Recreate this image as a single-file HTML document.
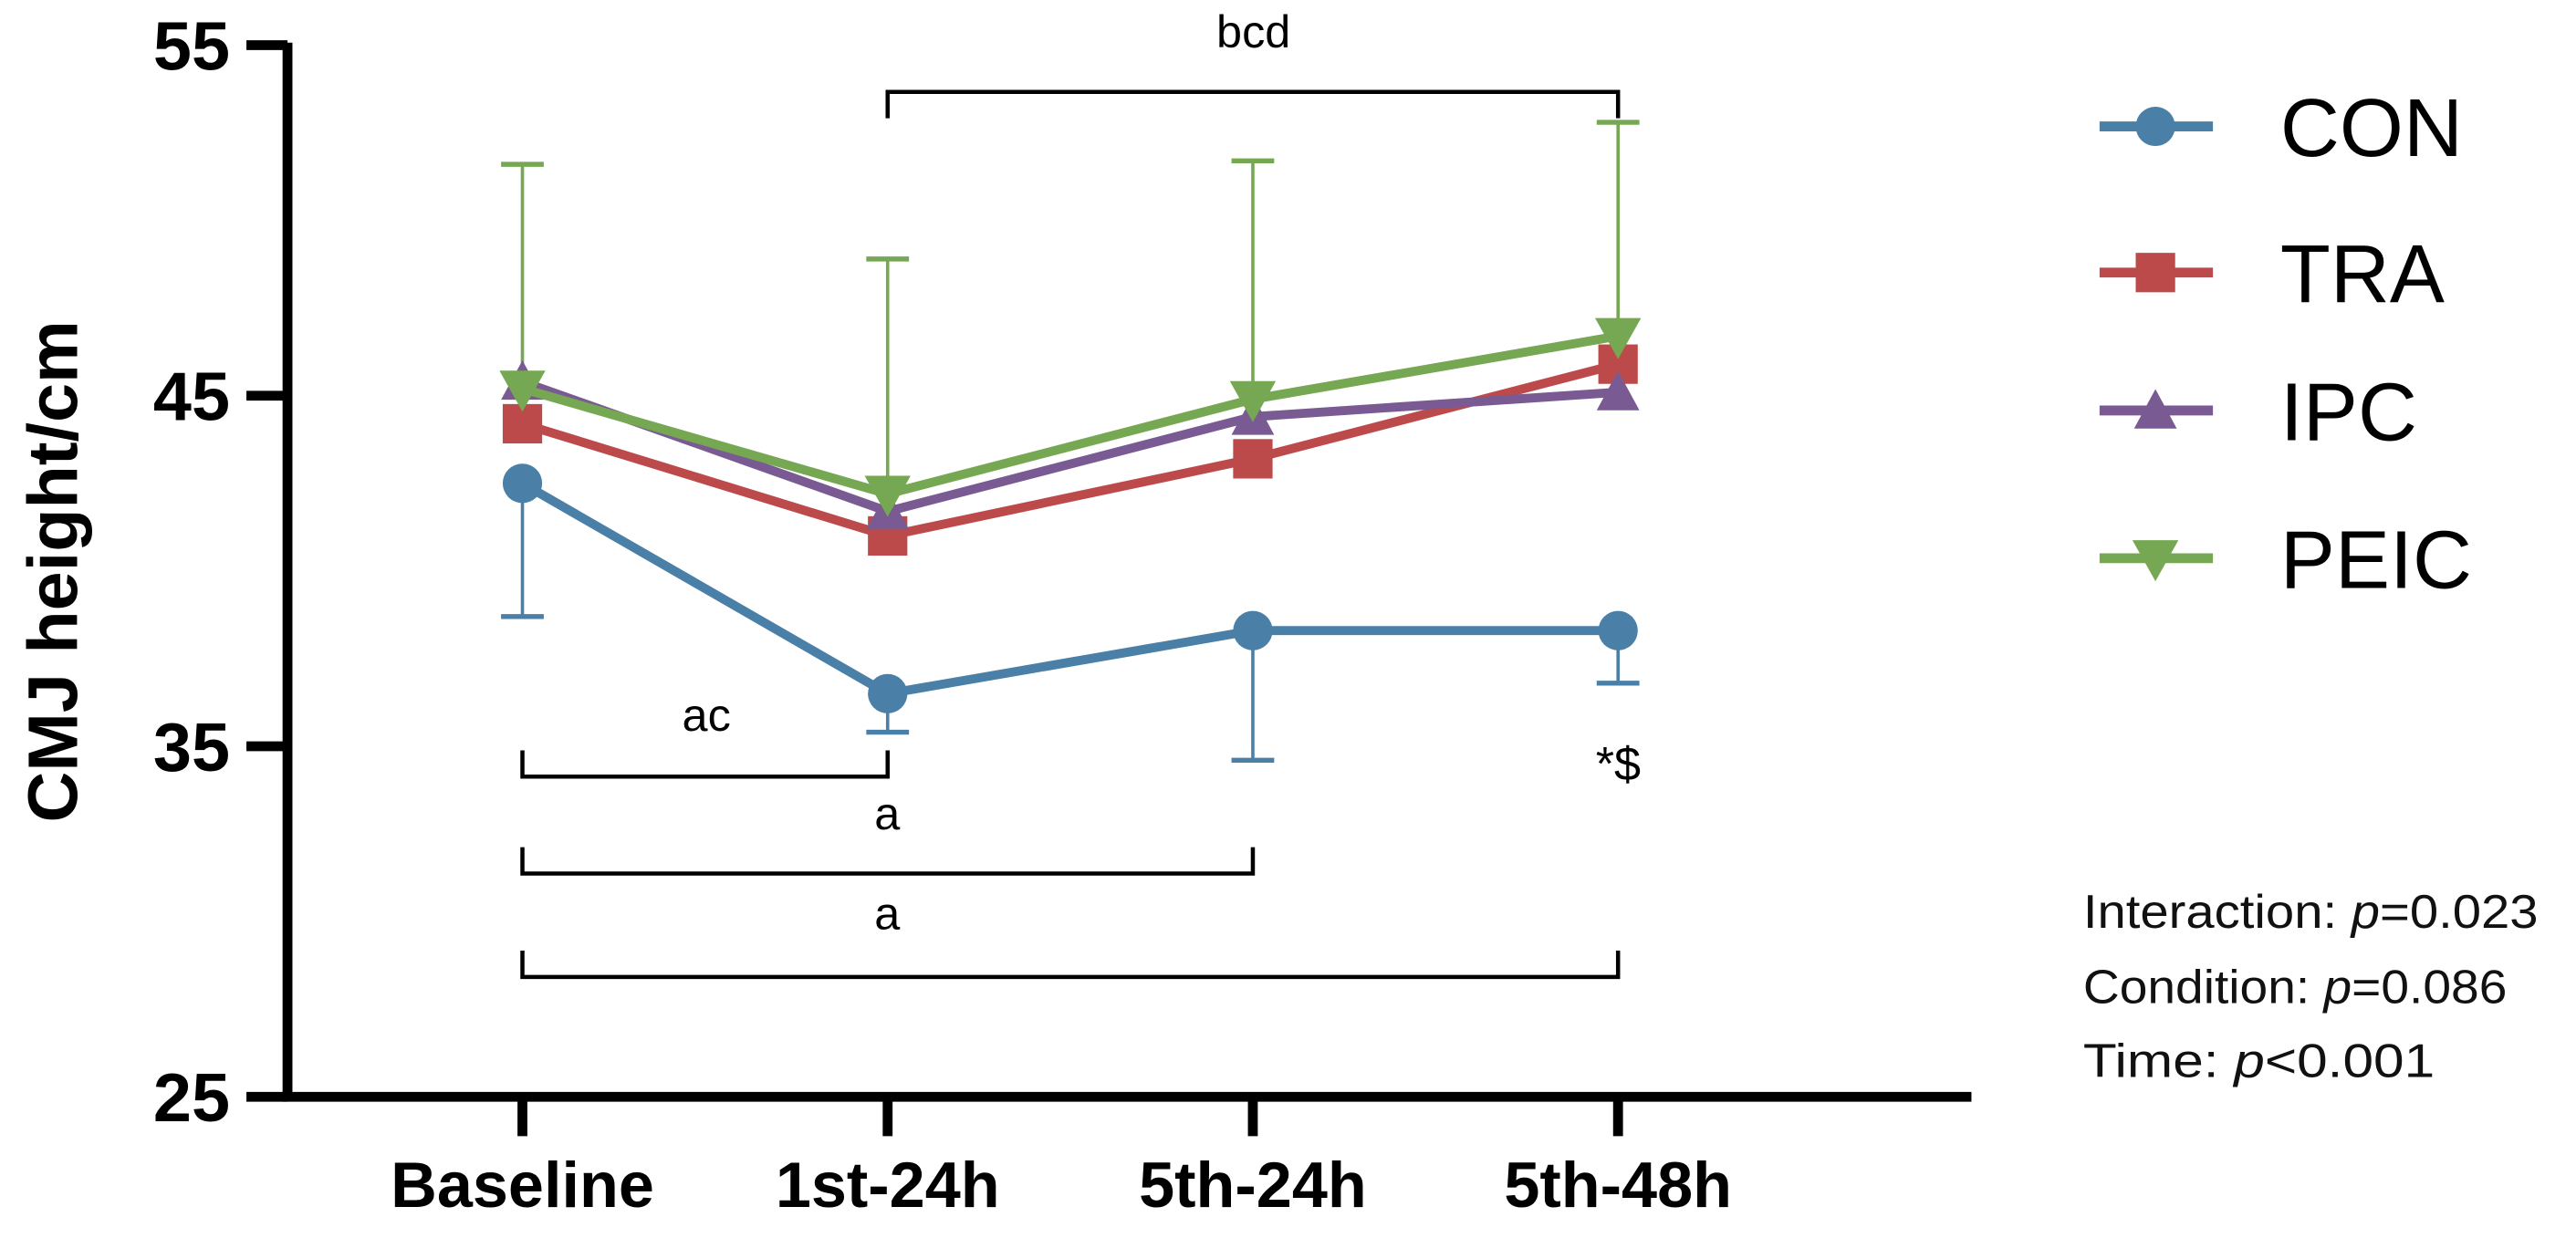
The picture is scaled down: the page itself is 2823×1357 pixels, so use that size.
<!DOCTYPE html>
<html><head><meta charset="utf-8"><style>
html,body{margin:0;padding:0;background:#fff;}
svg{display:block;}
text{font-family:"Liberation Sans",Arial,sans-serif;}
</style></head><body>
<svg id="chart" width="2823" height="1357" viewBox="0 0 1568 754" preserveAspectRatio="none" xmlns="http://www.w3.org/2000/svg">
<g id="axes"></g>
<g id="brackets"></g>
<g id="series"></g>
<g id="legend"></g>
<g font-size="29" fill="#111">
<text x="1268" y="565" textLength="277" lengthAdjust="spacingAndGlyphs">Interaction: <tspan font-style="italic">p</tspan>=0.023</text>
<text x="1268" y="611" textLength="258" lengthAdjust="spacingAndGlyphs">Condition: <tspan font-style="italic">p</tspan>=0.086</text>
<text x="1268" y="656" textLength="214" lengthAdjust="spacingAndGlyphs">Time: <tspan font-style="italic">p</tspan>&lt;0.001</text>
</g>
</svg>
<script>
const categories = ["Baseline","1st-24h","5th-24h","5th-48h"];
const yTicks = [25,35,45,55];
const seriesNames = ["CON","TRA","IPC","PEIC"];
const conValues = [42.5,36.5,38.3,38.3];
const conErrLow = [38.7,35.4,34.6,36.8];
const traValues = [44.2,41.0,43.2,45.9];
const ipcValues = [45.4,41.7,44.4,45.1];
const peicValues = [45.2,42.2,44.9,46.7];
const peicErrHigh = [51.6,48.9,51.7,52.8];

const NS="http://www.w3.org/2000/svg";
function el(tag,attrs,parent,txt){const e=document.createElementNS(NS,tag);for(const k in attrs)e.setAttribute(k,attrs[k]);if(txt!==undefined)e.textContent=txt;parent.appendChild(e);return e;}
const y0=668, yPer=21.35, yMin=25;
function yS(v){return y0-(v-yMin)*yPer;}
function xS(i){return 318+i*222.3;}

const axes=document.getElementById('axes');
let a=el('line',{x1:175,y1:26,x2:175,y2:670,stroke:'#000','stroke-width':6},axes);

a=el('line',{x1:172,y1:668,x2:1200,y2:668,stroke:'#000','stroke-width':6},axes);

yTicks.forEach(v=>{
  let t=el('line',{x1:150,y1:yS(v),x2:175,y2:yS(v),stroke:'#000','stroke-width':6},axes);
  
  let l=el('text',{x:140,y:yS(v)+15,'text-anchor':'end','font-size':42,'font-weight':'bold'},axes,String(v));
  
});
categories.forEach((c,i)=>{
  let t=el('line',{x1:xS(i),y1:668,x2:xS(i),y2:692,stroke:'#000','stroke-width':6},axes);
  
  let l=el('text',{x:xS(i),y:735,'text-anchor':'middle','font-size':39,'font-weight':'bold'},axes,c);
  
});
let yt=el('text',{x:0,y:0,transform:'translate(47,348) rotate(-90)','text-anchor':'middle','font-size':43,'font-weight':'bold'},axes,'CMJ height/cm');


const br=document.getElementById('brackets');
function bracket(i1,i2,y,dir,label,lx,ly,name){
  const g=el('g',{},br);
  
  const yy=y+dir*16;
  el('path',{d:`M${xS(i1)},${yy} L${xS(i1)},${y} L${xS(i2)},${y} L${xS(i2)},${yy}`,fill:'none',stroke:'#000','stroke-width':2.5},g);
  el('text',{x:lx,y:ly,'text-anchor':'middle','font-size':28},g,label);
}
bracket(1,3,56,1,'bcd',763,29,'bracket-bcd');
bracket(0,1,473,-1,'ac',430,445,'bracket-ac');
bracket(0,2,532,-1,'a',540,505,'bracket-a-1');
bracket(0,3,595,-1,'a',540,566,'bracket-a-2');
let st=el('text',{x:985,y:475,'text-anchor':'middle','font-size':29},br,'*$');


const sg=document.getElementById('series');
const colors={CON:'#4a7fa8',TRA:'#bd4a4a',IPC:'#7a5a92',PEIC:'#76a853'};
function marker(type,x,y,col,g){
  if(type==='circle') return el('circle',{cx:x,cy:y,r:12,fill:col},g);
  if(type==='square') return el('rect',{x:x-12,y:y-12,width:24,height:24,fill:col},g);
  if(type==='up') return el('path',{d:`M${x},${y-13} L${x+13},${y+11} L${x-13},${y+11}Z`,fill:col},g);
  return el('path',{d:`M${x-14},${y-11} L${x+14},${y-11} L${x},${y+14}Z`,fill:col},g);
}
function errs(vals,ends,col,name){
  const g=el('g',{},sg);
  
  vals.forEach((v,i)=>{
    el('line',{x1:xS(i),y1:yS(v),x2:xS(i),y2:yS(ends[i]),stroke:col,'stroke-width':2},g);
    el('line',{x1:xS(i)-13,y1:yS(ends[i]),x2:xS(i)+13,y2:yS(ends[i]),stroke:col,'stroke-width':3},g);
  });
}
errs(conValues,conErrLow,colors.CON,'con-error-bars');
errs(peicValues,peicErrHigh,colors.PEIC,'peic-error-bars');
function drawSeries(vals,col,mk,name){
  const g=el('g',{},sg);
  
  el('polyline',{points:vals.map((v,i)=>xS(i)+','+yS(v)).join(' '),fill:'none',stroke:col,'stroke-width':5.5},g);
  vals.forEach((v,i)=>{const m=marker(mk,xS(i),yS(v),col,g);
    });
}
drawSeries(conValues,colors.CON,'circle','series-con');
drawSeries(traValues,colors.TRA,'square','series-tra');
drawSeries(ipcValues,colors.IPC,'up','series-ipc');
drawSeries(peicValues,colors.PEIC,'down','series-peic');

const lg=document.getElementById('legend');
const legY=[77,166,250,340], mks=['circle','square','up','down'];
seriesNames.forEach((n,i)=>{
  const g=el('g',{},lg);
  
  el('line',{x1:1278,y1:legY[i],x2:1347,y2:legY[i],stroke:colors[n],'stroke-width':6},g);
  marker(mks[i],1312,legY[i],colors[n],g);
  el('text',{x:1388,y:legY[i]+18,'font-size':50},g,n);
});
</script>
</body></html>
